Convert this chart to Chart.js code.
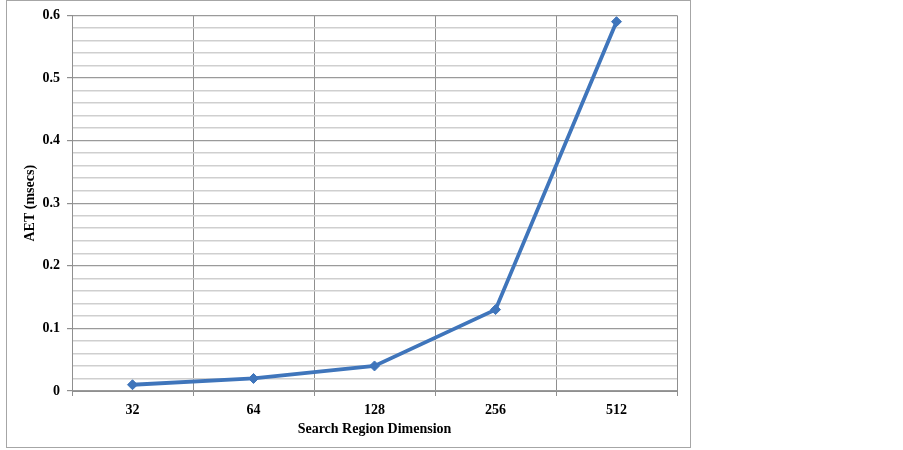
<!DOCTYPE html>
<html>
<head>
<meta charset="utf-8">
<script src="https://cdn.jsdelivr.net/npm/chart.js@4"></script>
<style>
  body { margin: 0; background: #fff; }
  #wrap { position: absolute; left: 0; top: 0; width: 903px; height: 450px; }
</style>
</head>
<body>
<div id="wrap"><canvas id="aetChart" width="903" height="450"></canvas></div>
<script>
// AET vs search region dimension
const dimensions = ['32', '64', '128', '256', '512'];
const aetValues = [0.01, 0.02, 0.04, 0.13, 0.59];
const yMin = 0;
const yMax = 0.6;
const yStep = 0.02;     // minor grid step
const yLabelStep = 0.1; // labelled ticks

function isMajor(v) {
    return Math.abs(v / yLabelStep - Math.round(v / yLabelStep)) < 1e-6;
}

// outer frame round the whole chart
const framePlugin = {
    id: 'frame',
    beforeDraw(chart) {
        const c = chart.ctx;
        c.save();
        c.fillStyle = '#fff';
        c.fillRect(0, 0, chart.width, chart.height);
        c.strokeStyle = '#a6a6a6';
        c.lineWidth = 1;
        c.strokeRect(6.5, 0.5, 684, 447);
        c.restore();
    }
};

const ctx = document.getElementById('aetChart').getContext('2d');
new Chart(ctx, {
    type: 'line',
    data: {
        labels: dimensions,
        datasets: [{
            label: 'AET',
            data: aetValues,
            borderColor: '#3f75bb',
            backgroundColor: '#3f75bb',
            borderWidth: 3.8,
            pointStyle: 'rectRot',
            pointRadius: 5,
            pointBorderWidth: 1,
            tension: 0,
            fill: false
        }]
    },
    options: {
        responsive: false,
        animation: false,
        layout: { padding: { top: 14, right: 226, bottom: 0, left: 0 } },
        plugins: {
            legend: { display: false },
            tooltip: { enabled: false }
        },
        scales: {
            x: {
                offset: true,
                grid: {
                    offset: true,
                    color: '#8f8f8f',
                    tickLength: 5,
                    tickColor: '#8f8f8f'
                },
                border: { color: '#8f8f8f' },
                ticks: {
                    color: '#000',
                    padding: 6,
                    font: { family: 'Liberation Serif', size: 14, weight: 'bold' }
                },
                title: {
                    display: true,
                    text: 'Search Region Dimension',
                    color: '#000',
                    padding: { top: 0, bottom: 12 },
                    font: { family: 'Liberation Serif', size: 14, weight: 'bold' }
                },
                afterFit(scale) { scale.height = 59; }
            },
            y: {
                min: yMin,
                max: yMax,
                ticks: {
                    stepSize: yStep,
                    autoSkip: false,
                    color: '#000',
                    padding: 7,
                    font: { family: 'Liberation Serif', size: 14, weight: 'bold' },
                    callback: (v) => isMajor(v) ? String(Math.round(v * 10) / 10) : ''
                },
                grid: {
                    color: (c) => isMajor(c.tick.value) ? '#9a9a9a' : '#cfcfcf',
                    lineWidth: (c) => isMajor(c.tick.value) ? 1.2 : 1.5,
                    tickLength: 5,
                    tickColor: (c) => isMajor(c.tick.value) ? '#8f8f8f' : 'rgba(0,0,0,0)'
                },
                border: { color: '#8f8f8f' },
                title: {
                    display: true,
                    text: 'AET (msecs)',
                    color: '#000',
                    padding: { top: 22, bottom: 0 },
                    font: { family: 'Liberation Serif', size: 14, weight: 'bold' }
                },
                afterFit(scale) { scale.width = 72; }
            }
        }
    },
    plugins: [framePlugin]
});
</script>
</body>
</html>
